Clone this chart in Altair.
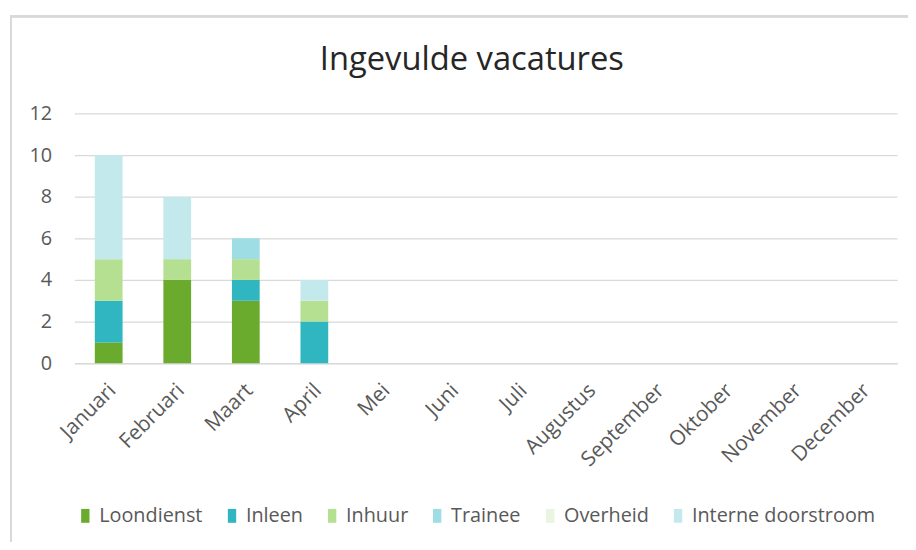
import altair as alt
import pandas as pd

title_text = "Ingevulde vacatures"
months = ["Januari", "Februari", "Maart", "April", "Mei", "Juni", "Juli",
          "Augustus", "September", "Oktober", "November", "December"]
series = ["Loondienst", "Inleen", "Inhuur", "Trainee", "Overheid", "Interne doorstroom"]
colors = ["#6aab2e", "#30b6c0", "#b5df91", "#9ddde3", "#eaf5e1", "#c4e9ec"]

loondienst = [1, 4, 3, 0, 0, 0, 0, 0, 0, 0, 0, 0]
inleen = [2, 0, 1, 2, 0, 0, 0, 0, 0, 0, 0, 0]
inhuur = [2, 1, 1, 1, 0, 0, 0, 0, 0, 0, 0, 0]
trainee = [0, 0, 1, 0, 0, 0, 0, 0, 0, 0, 0, 0]
overheid = [0, 0, 0, 0, 0, 0, 0, 0, 0, 0, 0, 0]
interne = [5, 3, 0, 1, 0, 0, 0, 0, 0, 0, 0, 0]
y_ticks = [0, 2, 4, 6, 8, 10, 12]

values = [loondienst, inleen, inhuur, trainee, overheid, interne]
rows = []
for si, (name, vals) in enumerate(zip(series, values)):
    for m, v in zip(months, vals):
        rows.append({"Maand": m, "Soort": name, "Aantal": v, "volg": si})
df = pd.DataFrame(rows)

FONT = "Open Sans"
GREY = "#595959"

bars = alt.Chart(df).mark_bar(size=28).encode(
    x=alt.X("Maand:N", sort=months, title=None,
            scale=alt.Scale(paddingInner=0, paddingOuter=0),
            axis=alt.Axis(labelAngle=-45, labelAlign="right", labelBaseline="middle",
                          labelFont=FONT, labelFontSize=21, labelColor=GREY,
                          labelPadding=24, labelOffset=4, ticks=False,
                          domainColor="#d9d9d9", domainWidth=1.5, grid=False)),
    y=alt.Y("Aantal:Q", title=None, stack="zero",
            scale=alt.Scale(domain=[0, 12], nice=False),
            axis=alt.Axis(values=y_ticks, labelFont=FONT, labelFontSize=20,
                          labelColor=GREY, labelPadding=23, ticks=False,
                          domain=False, gridColor="#d9d9d9", gridWidth=1.2)),
    color=alt.Color("Soort:N", sort=series,
                    scale=alt.Scale(domain=series, range=colors),
                    legend=alt.Legend(title=None, orient="none", direction="horizontal",
                                      legendX=1, legendY=396,
                                      symbolType="M-0.6,-1H0.6V1H-0.6Z", symbolSize=196,
                                      symbolStrokeWidth=0, labelFont=FONT,
                                      labelFontSize=20, labelColor=GREY, labelLimit=400,
                                      columnPadding=19, labelOffset=4)),
    order=alt.Order("volg:Q", sort="ascending"),
)

frame = alt.Chart(df).mark_rect(fill=None, stroke="#d9d9d9", strokeWidth=2).encode(
    x=alt.value(-64), x2=alt.value(860), y=alt.value(-98), y2=alt.value(460)
)

title = alt.Chart(pd.DataFrame({"t": [title_text]})).mark_text(
    font=FONT, fontSize=33, color="#262626", align="center", baseline="alphabetic"
).encode(text="t:N", x=alt.value(401), y=alt.value(-44))

chart = alt.layer(frame, bars, title).properties(
    width=830, height=252,
    padding={"left": 67, "top": 104, "right": 11, "bottom": 178},
    autosize=alt.AutoSizeParams(type="none"),
).configure_view(stroke=None)

chart.save("out.html", embed_options={"renderer": "svg", "actions": False})
